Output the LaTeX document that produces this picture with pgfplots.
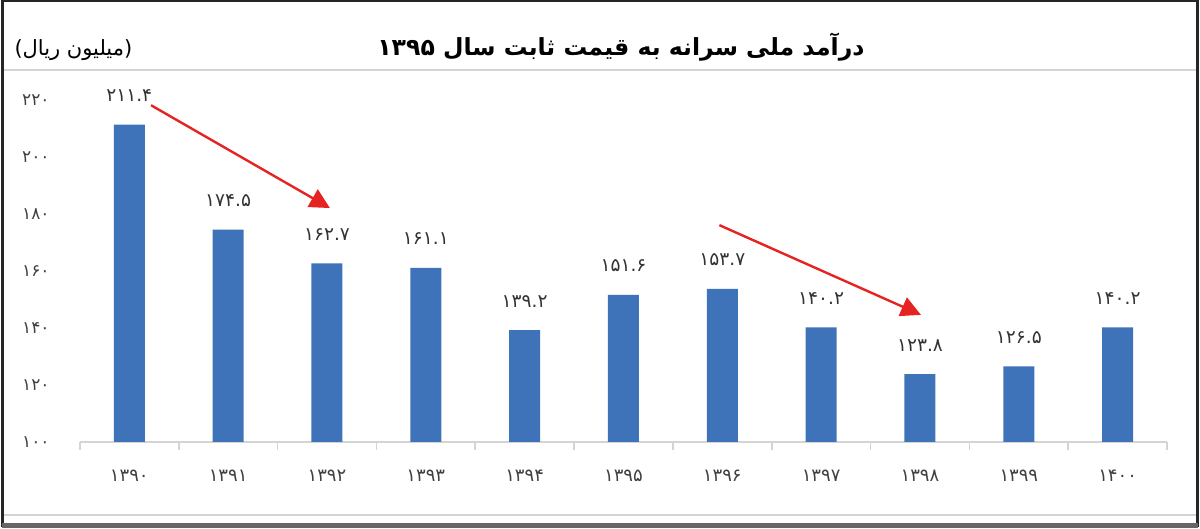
\documentclass[border=0pt]{standalone}
\usepackage{pgfplots}
\pgfplotsset{compat=1.18}
\usepackage{fontspec}
\usetikzlibrary{arrows.meta}
\TeXXeTstate=1
\newfontfamily\arabicfont[Script=Arabic]{DejaVu Sans}
\definecolor{barblue}{HTML}{3E73B9}
\definecolor{arrowred}{HTML}{E52421}
\definecolor{rulegray}{HTML}{D4D4D4}

\begin{document}
\begin{tikzpicture}
\begin{axis}[
    scale only axis,
    width=544pt, height=171pt,
    ybar, bar width=15.5pt,
    xmin=-0.5, xmax=10.5,
    ymin=100, ymax=220,
    clip=false,
    axis x line*=bottom,
    axis y line*=left,
    y axis line style={draw=none},
    x axis line style={rulegray, line width=0.9pt},
    xtick={0,...,10},
    xticklabels={۱۳۹۰,۱۳۹۱,۱۳۹۲,۱۳۹۳,۱۳۹۴,۱۳۹۵,۱۳۹۶,۱۳۹۷,۱۳۹۸,۱۳۹۹,۱۴۰۰},
    minor xtick={-0.5,0.5,...,10.5},
    major tick length=0pt,
    minor tick length=4pt,
    tick align=outside,
    every minor tick/.style={rulegray, line width=0.9pt},
    ytick={100,120,...,220},
    yticklabels={۱۰۰,۱۲۰,۱۴۰,۱۶۰,۱۸۰,۲۰۰,۲۲۰},
    ytick style={draw=none},
    xticklabel style={font=\arabicfont\fontsize{9}{10}\selectfont, text=black!75, inner sep=0pt, yshift=-14pt},
    yticklabel style={font=\arabicfont\fontsize{8.5}{10}\selectfont, text=black!75, anchor=east, inner sep=0pt, xshift=-15pt},
    point meta=explicit symbolic,
    nodes near coords={\pgfplotspointmeta},
    every node near coord/.append style={font=\arabicfont\fontsize{9.3}{10}\selectfont, text=black!80, yshift=8pt},
]
\addplot[fill=barblue, draw=none] coordinates {
    (0,211.4) [۲۱۱.۴]
    (1,174.5) [۱۷۴.۵]
    (2,162.7) [۱۶۲.۷]
    (3,161.1) [۱۶۱.۱]
    (4,139.2) [۱۳۹.۲]
    (5,151.6) [۱۵۱.۶]
    (6,153.7) [۱۵۳.۷]
    (7,140.2) [۱۴۰.۲]
    (8,123.8) [۱۲۳.۸]
    (9,126.5) [۱۲۶.۵]
    (10,140.2) [۱۴۰.۲]
};
% trend arrows
\draw[arrowred, line width=1.2pt, -{Triangle[length=10pt,width=10pt]}]
    (axis cs:0.22,218.2) -- (axis cs:2.03,182.1);
\draw[arrowred, line width=1.2pt, -{Triangle[length=10pt,width=10pt]}]
    (axis cs:5.97,176.1) -- (axis cs:8.01,144.6);
% title and unit
\node[font=\arabicfont\bfseries\fontsize{11.8}{14}\selectfont] at (axis description cs:0.4977,1.155)
    {\beginR درآمد ملی سرانه به قیمت ثابت سال ۱۳۹۵\endR};
\node[font=\arabicfont\fontsize{10.5}{12}\selectfont] at (axis description cs:-0.006,1.146)
    {\beginR(میلیون ریال)\endR};
% frame and rules
\draw[rulegray, line width=1pt] (axis description cs:-0.0712,1.0877) -- (axis description cs:1.028,1.0877);
\draw[rulegray, line width=0.8pt] (axis description cs:-0.0712,-0.2135) -- (axis description cs:1.028,-0.2135);
\draw[black!85, line width=1.2pt] (axis description cs:-0.0712,-0.2456) rectangle (axis description cs:1.028,1.2895);
\draw[black!60, line width=2.5pt] (axis description cs:-0.0712,-0.2456) -- (axis description cs:1.028,-0.2456);
\end{axis}
\end{tikzpicture}
\end{document}
